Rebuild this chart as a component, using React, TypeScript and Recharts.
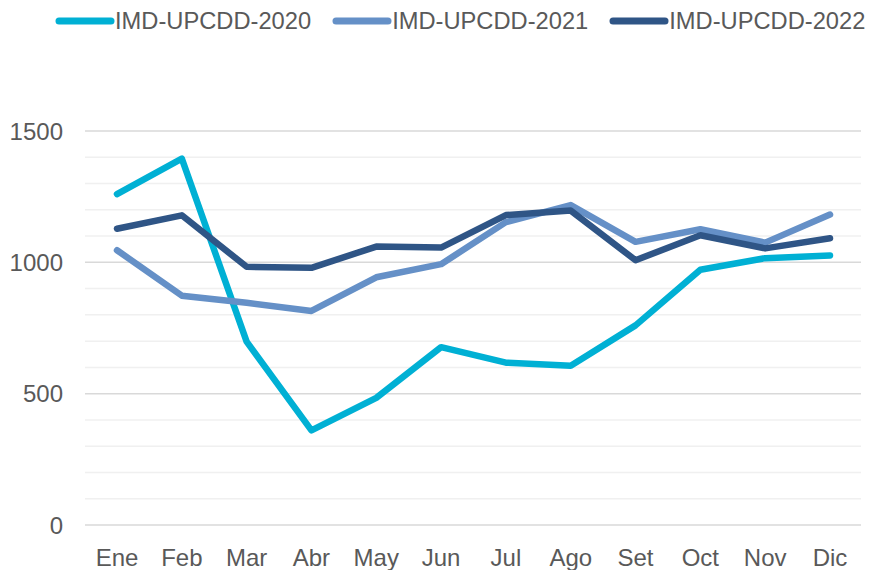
import React from "react";
import {
  LineChart,
  Line,
  XAxis,
  YAxis,
  CartesianGrid,
  Legend,
} from "recharts";

const months = ["Ene", "Feb", "Mar", "Abr", "May", "Jun", "Jul", "Ago", "Set", "Oct", "Nov", "Dic"];
const imd2020 = [1260, 1395, 698, 360, 484, 677, 618, 606, 760, 972, 1016, 1026];
const imd2021 = [1046, 873, 846, 815, 943, 993, 1153, 1218, 1078, 1126, 1075, 1182];
const imd2022 = [1128, 1179, 983, 979, 1060, 1056, 1180, 1197, 1008, 1103, 1053, 1092];
const yTicks = [0, 500, 1000, 1500];
const minorTicks = [100, 200, 300, 400, 600, 700, 800, 900, 1100, 1200, 1300, 1400];

const series = [
  { key: "IMD-UPCDD-2020", color: "#00B0D4" },
  { key: "IMD-UPCDD-2021", color: "#6590C7" },
  { key: "IMD-UPCDD-2022", color: "#2F5586" },
];

const data = months.map((m, i) => ({
  month: m,
  "IMD-UPCDD-2020": imd2020[i],
  "IMD-UPCDD-2021": imd2021[i],
  "IMD-UPCDD-2022": imd2022[i],
}));

const FONT = "'Liberation Sans', Arial, sans-serif";
const TEXT = "#595959";

const LegendRow = () => (
  <div
    style={{
      height: 42,
      display: "flex",
      alignItems: "center",
      paddingLeft: 53,
      fontFamily: FONT,
      fontSize: 23.7,
      color: TEXT,
      whiteSpace: "nowrap",
    }}
  >
    {series.map((s) => (
      <div key={s.key} style={{ display: "flex", alignItems: "center", marginRight: 19 }}>
        <svg width={62} height={12}>
          <line x1={6} y1={6} x2={58} y2={6} stroke={s.color} strokeWidth={7} strokeLinecap="round" />
        </svg>
        <span>{s.key}</span>
      </div>
    ))}
  </div>
);

export default function App() {
  return (
    <div style={{ position: "absolute", left: 0, top: 0 }}>
      <LineChart
        width={873}
        height={570}
        data={data}
        margin={{ top: 89, right: 12, bottom: 0, left: 0 }}
      >
        <CartesianGrid vertical={false} horizontalValues={minorTicks} stroke="#F0F0F0" strokeWidth={1.5} />
        <CartesianGrid vertical={false} horizontalValues={yTicks} stroke="#D9D9D9" strokeWidth={1.5} />
        <XAxis
          dataKey="month"
          height={45}
          axisLine={false}
          tickLine={false}
          tickSize={0}
          tickMargin={24}
          padding={{ left: 32, right: 31 }}
          interval={0}
          tick={{ fill: TEXT, fontSize: 24, fontFamily: FONT }}
        />
        <YAxis
          width={85}
          domain={[0, 1500]}
          ticks={yTicks}
          axisLine={false}
          tickLine={false}
          tickSize={0}
          tickMargin={22}
          tick={{ fill: TEXT, fontSize: 24, fontFamily: FONT }}
        />
        <Legend
          verticalAlign="top"
          align="left"
          content={() => <LegendRow />}
          wrapperStyle={{ top: 0, left: 0, width: 873 }}
        />
        {series.map((s) => (
          <Line
            key={s.key}
            type="linear"
            dataKey={s.key}
            stroke={s.color}
            strokeWidth={6.5}
            strokeLinecap="round"
            strokeLinejoin="round"
            dot={false}
            activeDot={false}
            isAnimationActive={false}
          />
        ))}
      </LineChart>
    </div>
  );
}
